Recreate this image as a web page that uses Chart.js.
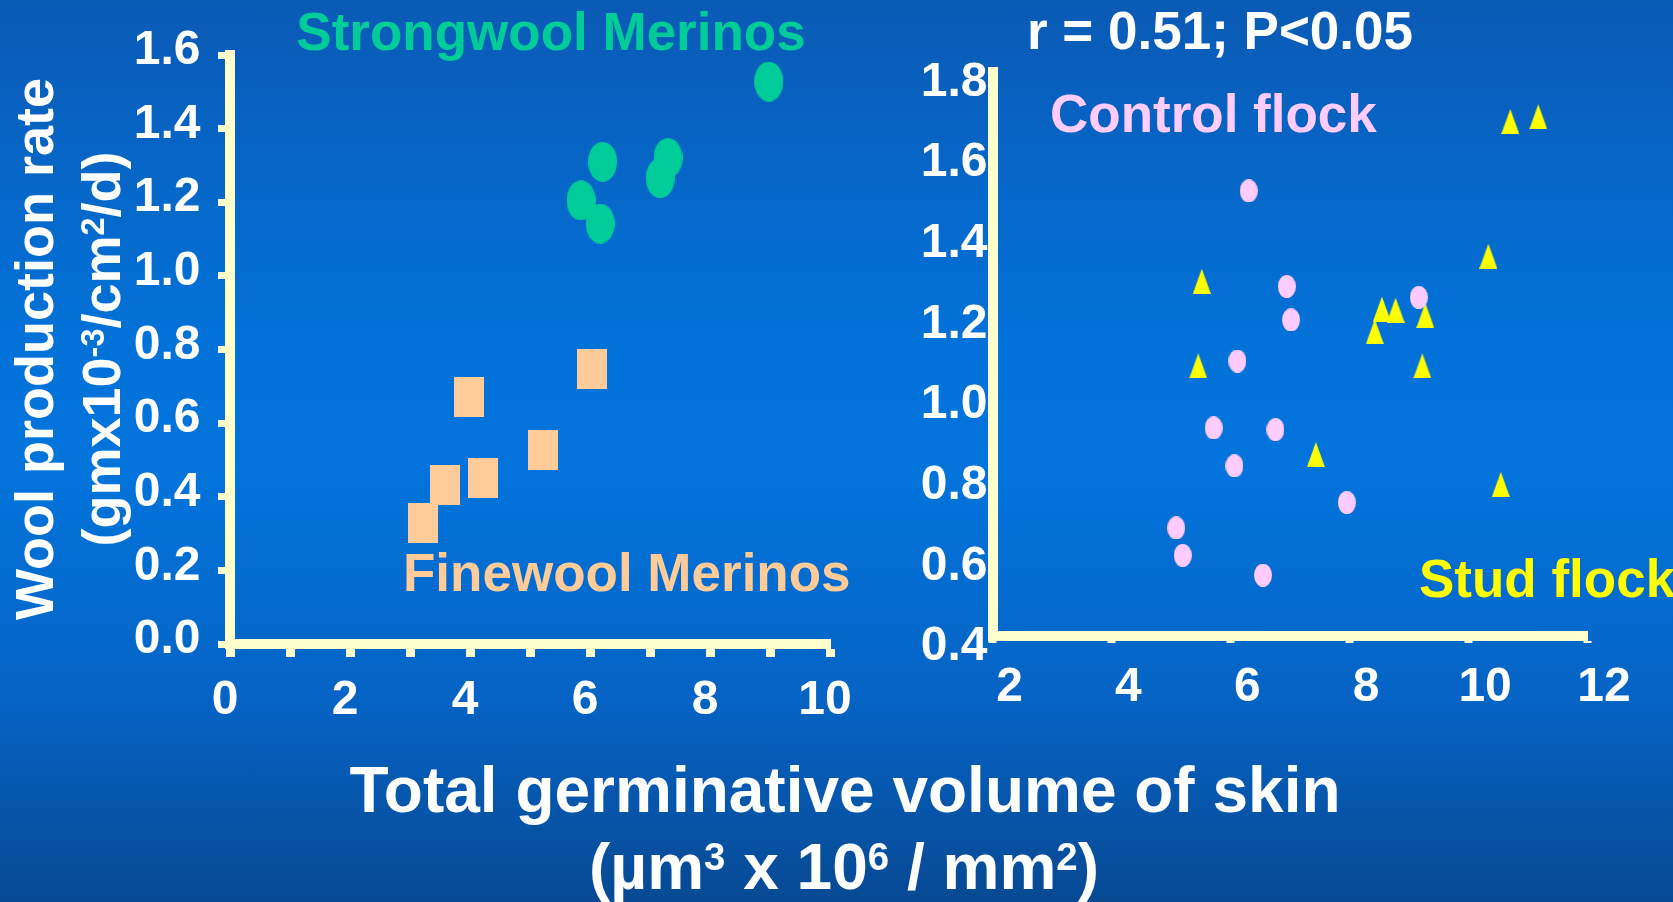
<!DOCTYPE html>
<html>
<head>
<meta charset="utf-8">
<script src="https://cdn.jsdelivr.net/npm/chart.js@4.4.1/dist/chart.umd.min.js"></script>
<style>
html, body { margin: 0; padding: 0; }
body {
    width: 1673px; height: 902px; overflow: hidden; position: relative;
    background: linear-gradient(to bottom, #0a5ab5 0%, #0272d9 38%, #0274dc 52%, #0563c4 78%, #074993 100%);
    font-family: "Liberation Sans", Arial, sans-serif; font-weight: bold; color: #fff;
}
canvas { position: absolute; left: 0; top: 0; }
.t { position: absolute; white-space: nowrap; line-height: 1; }
.c { text-align: center; }
.rot { transform: rotate(-90deg); }
sup { font-size: 0.6em; vertical-align: 0.5em; line-height: 0; }
</style>
</head>
<body>
<canvas id="leftChart" width="1673" height="902"></canvas>
<canvas id="rightChart" width="1673" height="902"></canvas>

<!-- titulos y etiquetas -->
<div class="t c rot" style="font-size:54px; width:700px; left:-316.5px; top:322px;">Wool production rate</div>
<div class="t c rot" style="font-size:54px; width:700px; left:-249px; top:322px;">(gmx10<sup>-3</sup>/cm<sup>2</sup>/d)</div>
<div class="t c" style="font-size:64px; width:1200px; left:245px; top:757.5px;">Total germinative volume of skin</div>
<div class="t c" style="font-size:64px; width:1200px; left:244px; top:834.5px;">(µm<sup>3</sup> x 10<sup>6</sup> / mm<sup>2</sup>)</div>

<div class="t c" style="font-size:53px; width:800px; left:151px; top:5px; color:#00cc99;">Strongwool Merinos</div>
<div class="t" style="font-size:53px; left:403px; top:546px; color:#ffcc99;">Finewool Merinos</div>
<div class="t c" style="font-size:53px; width:800px; left:820px; top:4px;">r = 0.51; P&lt;0.05</div>
<div class="t" style="font-size:53px; left:1050px; top:87px; color:#ffccff;">Control flock</div>
<div class="t" style="font-size:53px; left:1419px; top:552px; color:#ffff00;">Stud flock</div>

<script>
// Datos
// Panel izquierdo
var strongX = [8.98, 6.21, 7.30, 7.17, 5.85, 6.17];
var strongY = [1.528, 1.310, 1.320, 1.266, 1.205, 1.142];
var fineX = [3.98, 6.03, 5.22, 4.22, 3.58, 3.21];
var fineY = [0.671, 0.746, 0.526, 0.452, 0.431, 0.328];
var leftXLabels = ['0', '', '2', '', '4', '', '6', '', '8', '', '10'];
var leftYLabels = ['0.0', '0.2', '0.4', '0.6', '0.8', '1.0', '1.2', '1.4', '1.6'];

// Panel derecho
var controlX = [6.31, 6.95, 7.02, 9.17, 6.12, 5.72, 6.76, 6.07, 7.96, 5.09, 5.20, 6.55];
var controlY = [1.504, 1.267, 1.184, 1.240, 1.082, 0.916, 0.912, 0.822, 0.731, 0.668, 0.600, 0.551];
var studX = [10.71, 11.18, 10.34, 5.52, 8.55, 8.78, 9.28, 8.43, 5.46, 9.23, 7.44, 10.55];
var studY = [1.676, 1.688, 1.342, 1.280, 1.211, 1.208, 1.195, 1.155, 1.070, 1.070, 0.850, 0.776];
var rightXLabels = ['2', '4', '6', '8', '10', '12'];
var rightYLabels = ['0.4', '0.6', '0.8', '1.0', '1.2', '1.4', '1.6', '1.8'];

var AXIS = '#ffffcc';
Chart.defaults.font.family = '"Liberation Sans", Arial, sans-serif';

function mark(w, h, color, shape) {
    var c = document.createElement('canvas');
    c.width = w; c.height = h;
    var g = c.getContext('2d');
    g.fillStyle = color;
    g.beginPath();
    if (shape === 'ellipse') {
        g.ellipse(w / 2, h / 2, w / 2, h / 2, 0, 0, Math.PI * 2);
    } else if (shape === 'triangle') {
        g.moveTo(w / 2, 0); g.lineTo(w, h); g.lineTo(0, h); g.closePath();
    } else {
        g.rect(0, 0, w, h);
    }
    g.fill();
    return c;
}

function pts(xs, ys) {
    return xs.map(function (x, i) { return {x: x, y: ys[i]}; });
}

function tickFont() {
    return {size: 48, weight: 'bold', lineHeight: 1};
}

// Grafica izquierda
new Chart(document.getElementById('leftChart'), {
    type: 'scatter',
    data: {
        datasets: [
            {label: 'Strongwool Merinos', data: pts(strongX, strongY), pointStyle: mark(29, 40, '#00cc99', 'ellipse'), pointRadius: 15},
            {label: 'Finewool Merinos', data: pts(fineX, fineY), pointStyle: mark(30, 40, '#ffcc99', 'rect'), pointRadius: 15}
        ]
    },
    options: {
        responsive: false, animation: false, events: [],
        layout: {padding: {left: 100, top: 55, right: 843, bottom: 100}},
        plugins: {legend: {display: false}, tooltip: {enabled: false}},
        scales: {
            x: {
                type: 'linear', min: 0, max: 10,
                afterFit: function (s) { s.height = 158; },
                ticks: {stepSize: 1, autoSkip: false, maxRotation: 0, padding: 20, labelOffset: -5, color: '#fff', font: tickFont(),
                    callback: function (v, i) { return leftXLabels[i]; }},
                grid: {display: true, drawOnChartArea: false, drawTicks: true, tickLength: 13, tickWidth: 9, tickColor: AXIS},
                border: {display: true, width: 10, color: AXIS}
            },
            y: {
                type: 'linear', min: 0, max: 1.6,
                afterFit: function (s) { s.width = 130; },
                ticks: {stepSize: 0.2, autoSkip: false, padding: 17.5, labelOffset: -4, color: '#fff', font: tickFont(),
                    callback: function (v, i) { return leftYLabels[i]; }},
                grid: {display: true, drawOnChartArea: false, drawTicks: true, tickLength: 12, tickWidth: 7, tickColor: AXIS},
                border: {display: true, width: 10, color: AXIS}
            }
        }
    }
});

// Grafica derecha
new Chart(document.getElementById('rightChart'), {
    type: 'scatter',
    data: {
        datasets: [
            {label: 'Control flock', data: pts(controlX, controlY), pointStyle: mark(18, 23, '#ffccff', 'ellipse'), pointRadius: 10},
            {label: 'Stud flock', data: pts(studX, studY), pointStyle: mark(18, 25, '#ffff00', 'triangle'), pointRadius: 10}
        ]
    },
    options: {
        responsive: false, animation: false, events: [],
        layout: {padding: {left: 850, top: 71.6, right: 86, bottom: 100}},
        plugins: {legend: {display: false}, tooltip: {enabled: false}},
        scales: {
            x: {
                type: 'linear', min: 2, max: 12,
                afterFit: function (s) { s.height = 166; },
                ticks: {stepSize: 2, autoSkip: false, maxRotation: 0, padding: 21, labelOffset: 17, color: '#fff', font: tickFont(),
                    callback: function (v, i) { return rightXLabels[i]; }},
                grid: {display: true, drawOnChartArea: false, drawTicks: true, tickLength: 7, tickWidth: 8, tickColor: AXIS},
                border: {display: true, width: 10, color: AXIS}
            },
            y: {
                type: 'linear', min: 0.4, max: 1.8,
                afterFit: function (s) { s.width = 142.5; },
                ticks: {stepSize: 0.2, autoSkip: false, padding: 5, labelOffset: 11, color: '#fff', font: tickFont(),
                    callback: function (v, i) { return rightYLabels[i]; }},
                grid: {display: false, drawOnChartArea: false, drawTicks: false},
                border: {display: true, width: 10, color: AXIS}
            }
        }
    }
});
</script>
</body>
</html>
